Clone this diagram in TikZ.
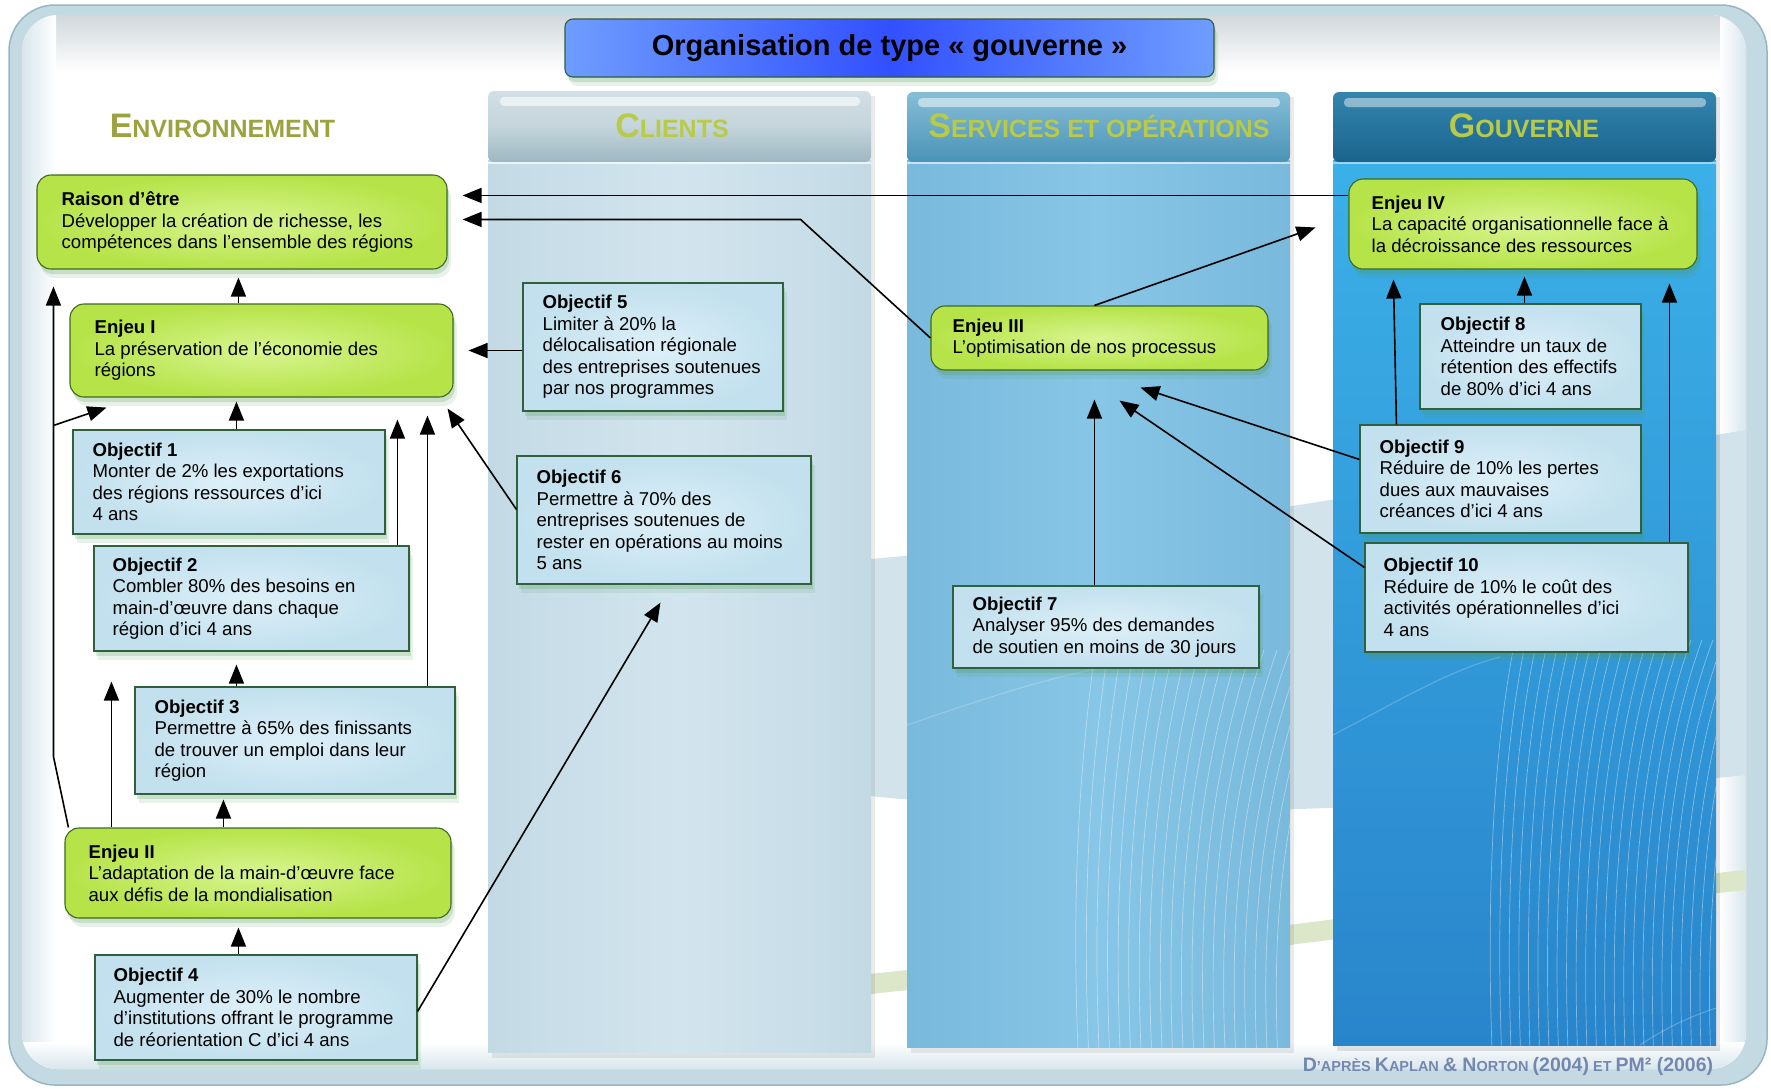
\documentclass[tikz,border=0pt]{standalone}
\usepackage{fontspec}
\setmainfont{Liberation Sans}
\usetikzlibrary{arrows.meta,shadows,calc}

\definecolor{framebg}{HTML}{C3DAE2}
\definecolor{frameline}{HTML}{97B6C2}
\definecolor{rimlight}{HTML}{D8E6EC}
\definecolor{enjin}{HTML}{D8F590}
\definecolor{enjout}{HTML}{B6E348}
\definecolor{enjline}{HTML}{3E6A1E}
\definecolor{objin}{HTML}{DDF0F8}
\definecolor{objout}{HTML}{C2E0EE}
\definecolor{objline}{HTML}{31603D}
\definecolor{shgreen}{HTML}{4E9A55}
\definecolor{olive}{HTML}{9BA23E}
\definecolor{headgreen}{HTML}{B8CA48}
\definecolor{footblue}{HTML}{7487AE}
\definecolor{swblue}{HTML}{D3E3EB}
\definecolor{swgreen}{HTML}{DCE6C8}
\definecolor{titleout}{HTML}{6E9DFF}
\definecolor{titlein}{HTML}{3250FF}
\definecolor{titleline}{HTML}{2C5E3A}
% column colours
\definecolor{cliHeadTop}{HTML}{D2DFE4}
\definecolor{cliHeadMid}{HTML}{C4D5DB}
\definecolor{cliHeadBot}{HTML}{9CB7C2}
\definecolor{cliEdge}{HTML}{C3DAE5}
\definecolor{cliMid}{HTML}{D2E5EE}
\definecolor{serHeadTop}{HTML}{86BED7}
\definecolor{serHeadBot}{HTML}{4A93B7}
\definecolor{serEdge}{HTML}{79B9DC}
\definecolor{serMid}{HTML}{87C6E6}
\definecolor{gouHeadTop}{HTML}{3485AE}
\definecolor{gouHeadBot}{HTML}{19648E}
\definecolor{gouTop}{HTML}{3BB0E8}
\definecolor{gouBot}{HTML}{2985CB}

\newcommand\bodysize{\fontsize{18.6pt}{21.5pt}\selectfont}
\newcommand\capA[1]{{\fontsize{34pt}{34pt}\selectfont #1}}
\newcommand\capB[1]{{\fontsize{25pt}{25pt}\selectfont #1}}
\newcommand\footA[1]{{\fontsize{19.5pt}{20pt}\selectfont #1}}
\newcommand\footB[1]{{\fontsize{14.5pt}{15pt}\selectfont #1}}

\begin{document}
\begin{tikzpicture}[x=1pt,y=-1pt,
  softshadow/.style={drop shadow={shadow xshift=2pt, shadow yshift=-5pt, opacity=.22, fill=shgreen},
                     drop shadow={shadow xshift=4pt, shadow yshift=-9pt, opacity=.12, fill=shgreen}},
  enjeu/.style={draw=enjline, line width=1.1pt, rounded corners=14pt, inner sep=0pt,
                inner color=enjin, outer color=enjout, softshadow},
  objbox/.style={draw=objline, line width=1.1pt, inner sep=0pt,
                 inner color=objin, outer color=objout, softshadow},
  txt/.style={align=left, inner sep=0pt, font=\bodysize, anchor=west},
  colhead/.style={anchor=base, inner sep=0pt, font=\bfseries},
  fanline/.style={white, opacity=.4, line width=.7pt},
  arr/.style={line width=1.6pt, -{Triangle[length=19pt,width=15pt]}}]

\useasboundingbox (0,0) rectangle (1771,1088);
\fill[white] (0,0) rectangle (1771,1088);

% tray frame
\draw[rounded corners=46pt, fill=framebg, draw=frameline, line width=1.5pt] (9,5) rectangle (1767,1085);
\fill[white, rounded corners=36pt] (22,15) rectangle (1746,1069);
\begin{scope}
  \clip[rounded corners=36pt] (22,15) rectangle (1746,1069);
  \shade[top color=rimlight!70!gray!70!white, bottom color=white] (22,15) rectangle (1746,72);
  \shade[left color=rimlight, right color=white] (22,15) rectangle (56,1069);
  \shade[left color=white, right color=rimlight] (1720,15) rectangle (1746,1069);
  \shade[top color=white, bottom color=rimlight] (22,1042) rectangle (1746,1069);
  % swooshes behind the columns
  \fill[swblue] (860,560) .. controls (1200,530) and (1500,470) .. (1746,430)
     -- (1746,775) .. controls (1500,800) and (1200,830) .. (860,795) -- cycle;
  \draw[swgreen, line width=20pt] (860,985) .. controls (1200,950) and (1500,905) .. (1746,880);
\end{scope}

% column: Clients
\fill[black, opacity=.08] (492,96) rectangle (875,1058);
\shade[left color=cliEdge, right color=cliEdge, middle color=cliMid] (488,160) rectangle (871,1052);
\shade[rounded corners=6pt, top color=cliHeadTop, bottom color=cliHeadBot, middle color=cliHeadMid] (488,91) rectangle (871,162);
\fill[white, opacity=.6, rounded corners=4pt] (500,97) rectangle (860,106);
\draw[white, opacity=.7, line width=2pt] (488,163) -- (871,163);

% column: Services et opérations
\fill[black, opacity=.08] (911,97) rectangle (1294,1053);
\shade[left color=serEdge, right color=serEdge, middle color=serMid] (907,160) rectangle (1290,1047);
\shade[rounded corners=6pt, top color=serHeadTop, bottom color=serHeadBot] (907,92) rectangle (1290,162);
\fill[white, opacity=.5, rounded corners=4pt] (918,98) rectangle (1280,107);
\draw[white, opacity=.6, line width=2pt] (907,163) -- (1290,163);
\begin{scope}
  \clip (907,162) rectangle (1290,1047);
  \draw[white, opacity=.2, line width=1.2pt] (907,725) .. controls (980,700) and (1040,680) .. (1100,668);
  \foreach \i in {0,...,19}
    \draw[fanline]
      ({1078+\i*10.5},1050) .. controls ({1072+\i*10.5},900) and ({1078+\i*11},780) .. ({1095+\i*13},650);
\end{scope}

% column: Gouverne
\fill[black, opacity=.1] (1337,97) rectangle (1720,1051);
\shade[top color=gouTop, bottom color=gouBot] (1333,160) rectangle (1716,1045);
\shade[rounded corners=6pt, top color=gouHeadTop, bottom color=gouHeadBot] (1333,92) rectangle (1716,162);
\fill[white, opacity=.45, rounded corners=4pt] (1344,98) rectangle (1706,107);
\draw[white, opacity=.5, line width=2pt] (1333,163) -- (1716,163);
\begin{scope}
  \clip (1333,162) rectangle (1716,1045);
  \draw[white, opacity=.2, line width=1.2pt] (1333,735) .. controls (1400,700) and (1450,670) .. (1500,657);
  \draw[white, opacity=.25, line width=1pt] (1640,1045) .. controls (1670,1025) and (1695,1015) .. (1716,1008);
  \foreach \i in {0,...,23}
    \draw[fanline]
      ({1492+\i*9.5},1050) .. controls ({1486+\i*9.5},880) and ({1495+\i*10},740) .. ({1515+\i*11},640);
\end{scope}

% column titles
\node[colhead, text=olive] (hEnv) at (222.5,137) {\capA{E}\capB{NVIRONNEMENT}};
\node[colhead, text=headgreen] (hCli) at (672,137) {\capA{C}\capB{LIENTS}};
\node[colhead, text=headgreen] (hSer) at (1099,137) {\capA{S}\capB{ERVICES ET OPÉRATIONS}};
\node[colhead, text=headgreen] (hGou) at (1524,137) {\capA{G}\capB{OUVERNE}};

% title
\node[draw=titleline, line width=1.1pt, rounded corners=8pt, left color=titleout, right color=titleout,
      middle color=titlein, minimum width=649pt, minimum height=58pt, inner sep=0pt, softshadow,
      font=\fontsize{29pt}{30pt}\selectfont\bfseries] (title) at (889.5,48) {Organisation de type « gouverne »};

% source line
\node[colhead, text=footblue] (source) at (1508,1071)
  {\footA{D}\footB{’APRÈS }\footA{K}\footB{APLAN }\footA{\& N}\footB{ORTON }\footA{(2004)}\footB{ ET }\footA{PM² (2006)}};

% issue boxes
\node[enjeu, minimum width=410pt, minimum height=94pt] (raison) at (242,222) {};
\node[enjeu, minimum width=383pt, minimum height=93pt] (enj1) at (261.5,350.5) {};
\node[enjeu, minimum width=386pt, minimum height=90pt] (enj2) at (258,873) {};
\node[enjeu, minimum width=337pt, minimum height=64pt] (enj3) at (1099.5,338) {};
\node[enjeu, minimum width=348pt, minimum height=90pt] (enj4) at (1523,224) {};

% objective boxes
\node[objbox, minimum width=312pt, minimum height=104pt] (obj1) at (229,482) {};
\node[objbox, minimum width=315pt, minimum height=105pt] (obj2) at (251.5,598.5) {};
\node[objbox, minimum width=320pt, minimum height=107pt] (obj3) at (295,740.5) {};
\node[objbox, minimum width=322pt, minimum height=105pt] (obj4) at (256,1007.5) {};
\node[objbox, minimum width=260pt, minimum height=128pt] (obj5) at (653,347) {};
\node[objbox, minimum width=294pt, minimum height=128pt] (obj6) at (664,520) {};
\node[objbox, minimum width=306pt, minimum height=82pt] (obj7) at (1106,627) {};
\node[objbox, minimum width=221pt, minimum height=105pt] (obj8) at (1530.5,356.5) {};
\node[objbox, minimum width=281pt, minimum height=108pt] (obj9) at (1500.5,479) {};
\node[objbox, minimum width=323pt, minimum height=109pt] (obj10) at (1526.5,597.5) {};

% box texts
\node[txt] (raisonT) at ([xshift=25pt]raison.west) {\textbf{Raison d’être}\\Développer la création de richesse, les\\compétences dans l’ensemble des régions};
\node[txt] (enj1T) at ([xshift=25pt]enj1.west) {\textbf{Enjeu I}\\La préservation de l’économie des\\régions};
\node[txt] (enj2T) at ([xshift=24pt]enj2.west) {\textbf{Enjeu II}\\L’adaptation de la main-d’œuvre face\\aux défis de la mondialisation};
\node[txt] (enj3T) at ([xshift=22pt]enj3.west) {\textbf{Enjeu III}\\L’optimisation de nos processus};
\node[txt] (enj4T) at ([xshift=23pt]enj4.west) {\textbf{Enjeu IV}\\La capacité organisationnelle face à\\la décroissance des ressources};
\node[txt] (obj1T) at ([xshift=20pt]obj1.west) {\textbf{Objectif 1}\\Monter de 2\% les exportations\\des régions ressources d’ici\\4 ans};
\node[txt] (obj2T) at ([xshift=19pt]obj2.west) {\textbf{Objectif 2}\\Combler 80\% des besoins en\\main-d’œuvre dans chaque\\région d’ici 4 ans};
\node[txt] (obj3T) at ([xshift=20pt]obj3.west) {\textbf{Objectif 3}\\Permettre à 65\% des finissants\\de trouver un emploi dans leur\\région};
\node[txt] (obj4T) at ([xshift=19pt]obj4.west) {\textbf{Objectif 4}\\Augmenter de 30\% le nombre\\d’institutions offrant le programme\\de réorientation C d’ici 4 ans};
\node[txt] (obj5T) at ([xshift=20pt]obj5.west) {\textbf{Objectif 5}\\Limiter à 20\% la\\délocalisation régionale\\des entreprises soutenues\\par nos programmes};
\node[txt] (obj6T) at ([xshift=20pt]obj6.west) {\textbf{Objectif 6}\\Permettre à 70\% des\\entreprises soutenues de\\rester en opérations au moins\\5 ans};
\node[txt] (obj7T) at ([xshift=20pt]obj7.west) {\textbf{Objectif 7}\\Analyser 95\% des demandes\\de soutien en moins de 30 jours};
\node[txt] (obj8T) at ([xshift=21pt]obj8.west) {\textbf{Objectif 8}\\Atteindre un taux de\\rétention des effectifs\\de 80\% d’ici 4 ans};
\node[txt] (obj9T) at ([xshift=20pt]obj9.west) {\textbf{Objectif 9}\\Réduire de 10\% les pertes\\dues aux mauvaises\\créances d’ici 4 ans};
\node[txt] (obj10T) at ([xshift=19pt]obj10.west) {\textbf{Objectif 10}\\Réduire de 10\% le coût des\\activités opérationnelles d’ici\\4 ans};

% links
\coordinate (bend2) at ($(raison.north east)+(353,45)$);
\coordinate (lb) at ($(enj2.north west)+(-11,-71)$);
\coordinate (fork) at ($(enj2.north west)+(-11,-402)$);

\draw[arr] ($(enj4.north west)+(0,17)$) -- ($(raison.north east)+(15,21)$);
\draw[arr] (enj3.west) -- (bend2) -- ($(raison.north east)+(15,45)$);
\draw[arr] ($(enj3.north west)+(164,0)$) -- ($(enj4.north west)+(-33,49)$);
\draw[arr] ($(enj1.north west)+(169,0)$) -- ($(raison.south west)+(202,8)$);
\draw[arr] (obj5.west |- enj1.east) -- ($(enj1.east)+(15,0)$);
\draw[arr] ($(obj1.north west)+(164,0)$) -- ($(enj1.south west)+(167,4)$);
\draw[arr] ($(obj2.north west)+(304,0)$) -- ($(enj1.south west)+(328,22)$);
\draw[arr] ($(obj3.north west)+(293,0)$) -- ($(enj1.south west)+(358,18)$);
\draw[arr] ($(obj6.north west)+(0,54)$) -- ($(enj1.south east)+(-6,11)$);
\draw[arr] ($(obj3.north west)+(102,0)$) -- ($(obj2.south west)+(143,13)$);
\draw[arr] ($(enj2.north west)+(4,0)$) -- (lb) -- ($(raison.south west)+(17,17)$);
\draw[arr] (fork) -- ($(enj1.south west)+(37,10)$);
\draw[arr] ($(enj2.north west)+(47,0)$) -- ($(obj2.south west)+(18,30)$);
\draw[arr] ($(enj2.north west)+(159,0)$) -- ($(obj3.south west)+(89,5)$);
\draw[arr] ($(obj4.north west)+(144,0)$) -- ($(enj2.south west)+(174,9)$);
\draw[arr] ($(obj4.north east)+(0,57)$) -- ($(obj6.south west)+(144,18)$);
\draw[arr] ($(obj7.north west)+(142,0)$) -- ($(enj3.south west)+(164,29)$);
\draw[arr] ($(obj10.north west)+(0,25)$) -- ($(enj3.south west)+(189,30)$);
\draw[arr] ($(obj9.north west)+(0,35)$) -- ($(enj3.south west)+(210,17)$);
\draw[arr] ($(obj9.north west)+(37,0)$) -- ($(enj4.south west)+(45,10)$);
\draw[arr] ($(obj8.north west)+(105,0)$) -- ($(enj4.south west)+(176,7)$);
\draw[arr] ($(obj10.north west)+(305,0)$) -- ($(enj4.south west)+(321,14)$);

\end{tikzpicture}
\end{document}
